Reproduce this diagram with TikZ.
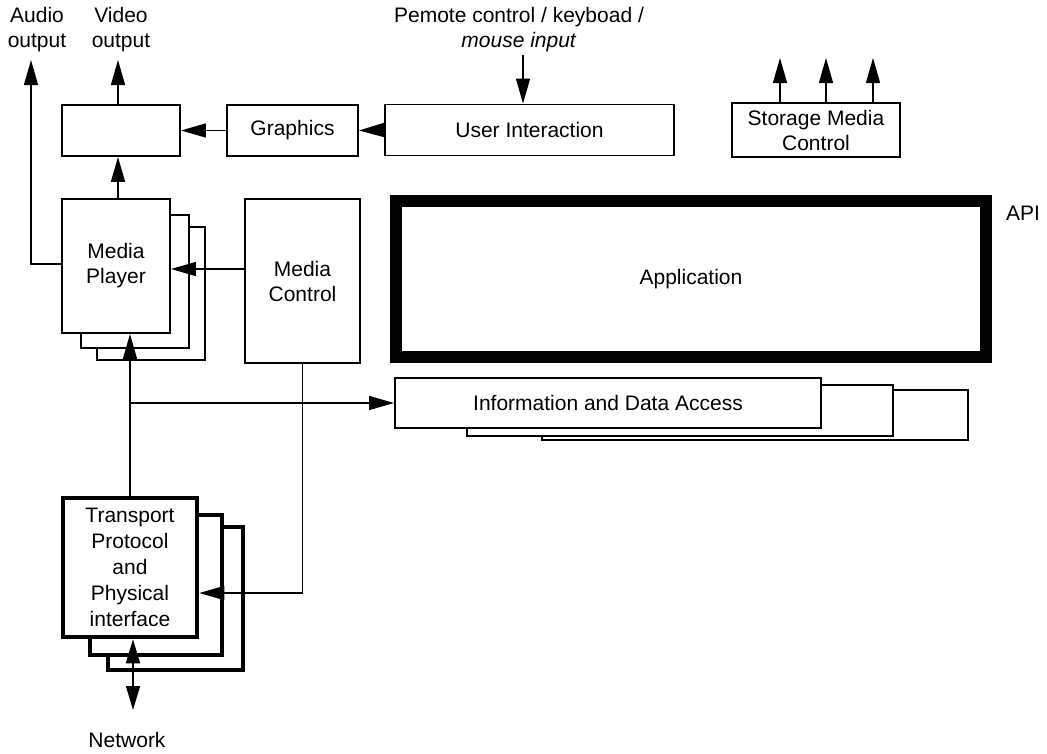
\documentclass[tikz,border=0pt]{standalone}
\usepackage{fontspec}
\setmainfont{Liberation Sans}
\usetikzlibrary{arrows.meta}
\begin{document}
\begin{tikzpicture}[x=1pt,y=-1pt,
  every node/.style={font=\fontsize{21pt}{25pt}\selectfont},
  box/.style={draw, line width=1.9pt, fill=white, inner sep=0pt, align=center},
  thickbox/.style={draw, line width=12pt, inner sep=0pt, align=center},
  tpbox/.style={draw, line width=4.5pt, fill=white, inner sep=0pt, align=center},
  lbl/.style={inner sep=0pt, align=center},
  conn/.style={line width=1.4pt},
  arr/.style={conn, -{Triangle[length=25pt,width=14pt]}},
  arrtwo/.style={conn, {Triangle[length=24pt,width=14pt]}-{Triangle[length=24pt,width=14pt]}}]
\useasboundingbox (0,0) rectangle (1047,753);

% labels
\node[lbl] (aout) at (37,30) {Audio\\output};
\node[lbl] (vout) at (121,30) {Video\\output};
\node[lbl] (rctext) at (519,30) {Pemote control / keyboad /\\\textit{mouse input}};
\node[lbl] (api) at (1023,213) {API};
\node[lbl] (net) at (127,740) {Network};

% top row
\node[box, minimum width=118pt, minimum height=51pt] (vbox) at (121,130.5) {};
\node[box, minimum width=131pt, minimum height=51pt] (gfx) at (292.5,130.5) {Graphics};
\node[box, minimum width=289pt, minimum height=51pt] (ui) at (529.5,130) {User Interaction};
\node[box, minimum width=168pt, minimum height=54pt] (sm) at (816,130) {Storage Media\\Control};

% media player stack
\node[box, minimum width=108pt, minimum height=133pt] (mp3) at (151,293.5) {};
\node[box, minimum width=108pt, minimum height=133pt] (mp2) at (135,281.5) {};
\node[box, minimum width=108pt, minimum height=134pt] (mp) at (116,266) {Media\\Player};

% media control
\node[box, minimum width=115pt, minimum height=164pt] (mc) at (302.5,281) {Media\\Control};

% application
\node[thickbox, minimum width=590pt, minimum height=156pt] (app) at (691,279) {Application};

% information stack
\node[box, minimum width=426pt, minimum height=50pt] (info3) at (755,415) {};
\node[box, minimum width=426pt, minimum height=51pt] (info2) at (680,410.5) {};
\node[box, minimum width=426pt, minimum height=50pt] (info) at (608,403) {Information and Data Access};

% transport stack
\node[tpbox, minimum width=135pt, minimum height=143pt] (tp3) at (175.5,598.5) {};
\node[tpbox, minimum width=132pt, minimum height=140pt] (tp2) at (156,585) {};
\node[tpbox, minimum width=134pt, minimum height=139pt, font=\fontsize{21pt}{26pt}\selectfont] (tp) at (130,567.5) {Transport\\Protocol\\and\\Physical\\interface};

% helper coordinates
\coordinate (aend) at (31,60);
\coordinate (vend) at (118,60);
\coordinate (rc) at (523,55);
\coordinate (ymc) at (0,269);
\coordinate (ytp) at (0,593);
\coordinate (s1) at (780,58);
\coordinate (s2) at (826,58);
\coordinate (s3) at (873,58);
\coordinate (nend) at (133,710);

% connectors
\draw[arr] (mp.west |- 0,264) -| (aend);
\draw[arr] (vbox.north -| vend) -- (vend);
\draw[arr] (mp.north -| vend) -- (vbox.south -| vend);
\draw[arr] (gfx.west) -- (vbox.east);
\draw[arr] (ui.west) -- (gfx.east);
\draw[arr] (rc) -- (rc |- ui.north);
\draw[arr] (s1 |- sm.north) -- (s1);
\draw[arr] (s2 |- sm.north) -- (s2);
\draw[arr] (s3 |- sm.north) -- (s3);
\draw[arr] (mc.west |- ymc) -- (mp.east |- ymc);
\draw[arr] (tp.north) -- (tp.north |- mp.south);
\draw[arr] (tp.north |- info.west) -- (info.west);
\draw[arr] (mc.south) |- (tp.east |- ytp);
\draw[arrtwo] (tp.south -| nend) -- (nend);
\end{tikzpicture}
\end{document}
